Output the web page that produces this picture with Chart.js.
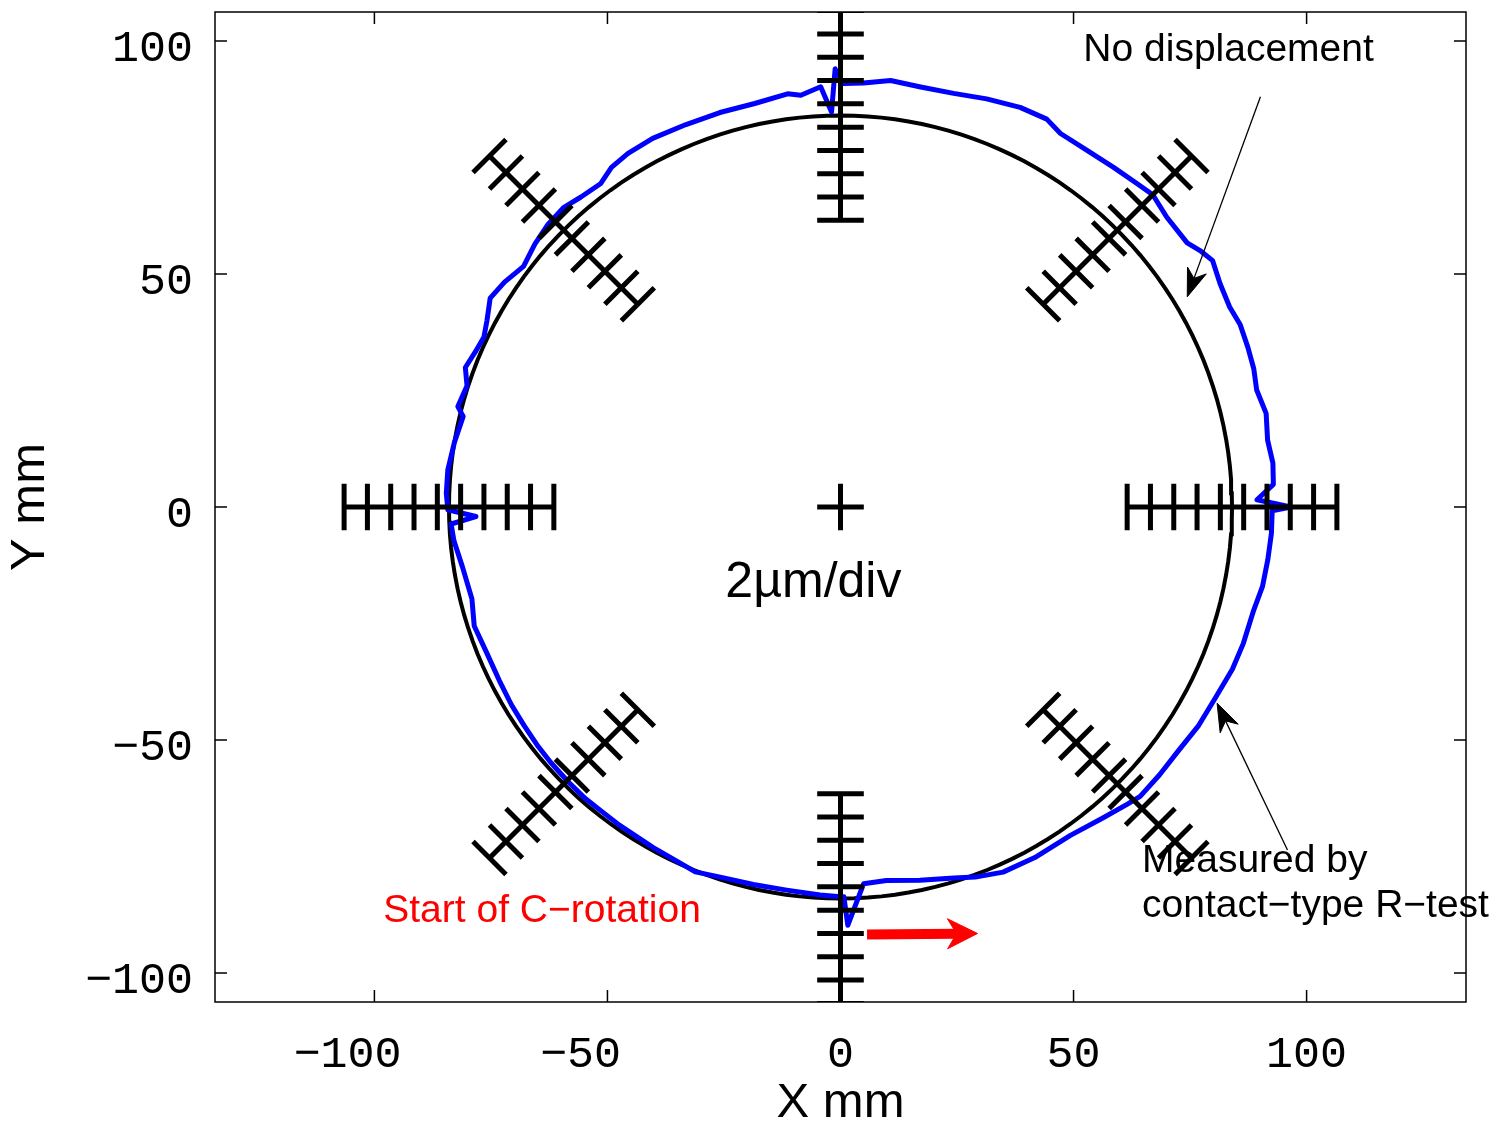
<!DOCTYPE html>
<html>
<head>
<meta charset="utf-8">
<script src="https://cdn.jsdelivr.net/npm/chart.js@4.4.1/dist/chart.umd.min.js"></script>
<style>
  html, body { margin: 0; padding: 0; background: #fff; }
  canvas { display: block; }
</style>
</head>
<body>
<canvas id="chart1" width="1498" height="1128"></canvas>
<script>
// Measured profile (R-test): angle in deg, radial deviation in um
const angleDeg = [
  -89.5, -89, -86.5, -83, -78, -73, -70, -66, -61, -55,
  -50, -46, -44, -40, -36, -31.5, -27, -22.5, -18.7, -14,
  -10.7, -7, -3.5, -0.5, 0, 1, 3, 5.8, 8.9, 12.4,
  15.7, 18.5, 21.4, 24.5, 27.2, 30.5, 33.5, 35.5, 37.3, 41.6,
  45, 47.5, 51.2, 55.4, 59.5, 62, 65.8, 70.3, 74.7, 79.2,
  83.3, 86.9, 89.6, 90.7, 91.3, 92.7, 95.5, 97.3, 102, 107,
  112, 117, 121, 124, 126.6, 130, 132.7, 136, 139.3, 142.8,
  146.2, 149.2, 152.2, 154.5, 157, 159.6, 162, 165.3, 166.5, 170.6,
  174.6, 178, 180.4, 181.5, 182.5, 185, 189, 194, 198, 202,
  207, 211, 214.6, 218.4, 221.4, 225.3, 228.8, 231.7, 235.2, 238,
  241.2, 244.6, 248.3, 252, 257, 262, 267, 270
];
const devUm = [
  -0.15, 2.3, -1.2, -1.3, -0.85, -0.3, 0.2, 0.7, 0.8, 0.8,
  1.3, 1.85, 2.15, 2.15, 2.15, 2.4, 2.5, 2.8, 2.9, 2.95,
  3.25, 3.35, 3.45, 3.45, 5.05, 2.15, 3.6, 3.7, 3.5, 3.8,
  3.5, 3.8, 3.95, 4.1, 3.95, 4.2, 4.7, 4.3, 3.8, 3.85,
  4.3, 4.05, 3.8, 3.6, 3.6, 4.1, 4.0, 3.6, 3.2, 3.1,
  3.25, 2.85, 2.75, 4.0, 0.3, 2.5, 1.9, 2.15, 1.8, 1.8,
  1.8, 1.9, 1.8, 1.55, 0.95, 1.1, 1.4, 1.3, 1.0, 0.55,
  1.1, 1.4, 0.7, 0.3, 0.45, 0.75, 0.1, 0.35, -0.3, 0.0,
  0.25, 0.25, 0.1, -2.3, -0.15, -0.3, -0.75, -1.0, -0.55, -0.75,
  -0.75, -0.65, -0.6, -0.5, -0.45, -0.4, -0.35, -0.4, -0.35, -0.35,
  -0.25, -0.15, 0.1, -0.2, -0.35, -0.4, -0.25, -0.15
];

const nominalRadius = 84;            // mm, "no displacement" circle
const mmPerUm = 2.5;                 // 2 um/div drawn as 5 mm/div
const scaleAngles = [0, 45, 90, 135, 180, 225, 270, 315];
const divRadii = [61.5, 66.5, 71.5, 76.5, 81.5, 86.5, 91.5, 96.5, 101.5, 106.5];
const divHalf = 5;
const tickValues = [-100, -50, 0, 50, 100];

function polar(r, deg) {
  const a = deg * Math.PI / 180;
  return { x: r * Math.cos(a), y: r * Math.sin(a) };
}

const measured = angleDeg.map((a, i) => polar(nominalRadius + devUm[i] * mmPerUm, a));

const circle = [];
for (let a = 0; a <= 360; a += 2) circle.push(polar(nominalRadius, a));

// 2um/div scale bars on 8 directions + centre cross
const gap = { x: null, y: null };
const divMarks = [];
scaleAngles.forEach(a => {
  divMarks.push(polar(divRadii[0], a), polar(divRadii[divRadii.length - 1], a), gap);
  divRadii.forEach(r => {
    const c = polar(r, a), p = polar(divHalf, a + 90);
    divMarks.push({ x: c.x - p.x, y: c.y - p.y }, { x: c.x + p.x, y: c.y + p.y }, gap);
  });
});
divMarks.push({ x: -divHalf, y: 0 }, { x: divHalf, y: 0 }, gap, { x: 0, y: -divHalf }, { x: 0, y: divHalf });

const minus = v => (v < 0 ? '\u2212' + (-v) : String(v));

function arrow(ctx, x1, y1, x2, y2, lw, len, half, color) {
  const dx = x2 - x1, dy = y2 - y1, d = Math.hypot(dx, dy);
  const ux = dx / d, uy = dy / d, nx = -uy, ny = ux;
  const bx = x2 - ux * len, by = y2 - uy * len;
  const mx = x2 - ux * len * 0.7, my = y2 - uy * len * 0.7;
  ctx.strokeStyle = color; ctx.fillStyle = color; ctx.lineWidth = lw;
  ctx.lineCap = 'butt';
  ctx.beginPath(); ctx.moveTo(x1, y1); ctx.lineTo(mx, my); ctx.stroke();
  ctx.beginPath();
  ctx.moveTo(x2, y2);
  ctx.lineTo(bx + nx * half, by + ny * half);
  ctx.lineTo(mx, my);
  ctx.lineTo(bx - nx * half, by - ny * half);
  ctx.closePath();
  ctx.lineJoin = 'round'; ctx.lineWidth = 1;
  ctx.fill(); ctx.stroke();
}

const frame = {
  id: 'frame',
  afterDatasetsDraw(chart) {
    const { ctx, chartArea: a, scales: { x, y } } = chart;
    ctx.save();
    ctx.strokeStyle = '#000';
    ctx.lineWidth = 1.5;
    ctx.strokeRect(a.left, a.top, a.right - a.left, a.bottom - a.top);
    ctx.beginPath();
    tickValues.forEach(v => {
      const px = x.getPixelForValue(v), py = y.getPixelForValue(v);
      ctx.moveTo(px, a.bottom); ctx.lineTo(px, a.bottom - 12);
      ctx.moveTo(px, a.top); ctx.lineTo(px, a.top + 12);
      ctx.moveTo(a.left, py); ctx.lineTo(a.left + 12, py);
      ctx.moveTo(a.right, py); ctx.lineTo(a.right - 12, py);
    });
    ctx.stroke();

    const X = v => x.getPixelForValue(v), Y = v => y.getPixelForValue(v);
    arrow(ctx, X(90.1), Y(88.0), X(74.4), Y(45.1), 1.3, 28, 10, '#000');
    arrow(ctx, X(95.9), Y(-73.6), X(80.8), Y(-42.1), 1.3, 28, 10, '#000');
    arrow(ctx, X(5.7), Y(-91.7), X(29.4), Y(-91.5), 10, 30, 15, '#ff0000');

    ctx.textAlign = 'left';
    ctx.textBaseline = 'alphabetic';
    ctx.fillStyle = '#000';
    ctx.font = '39px "Liberation Sans", Arial, sans-serif';
    ctx.fillText('No displacement', X(52.1), Y(95.6));
    ctx.fillText('Measured by', X(64.7), Y(-78.3));
    ctx.fillText('contact\u2212type R\u2212test', X(64.7), Y(-87.9));
    ctx.font = '50px "Liberation Sans", Arial, sans-serif';
    ctx.fillText('2\u00b5m/div', X(-24.7), Y(-19.3));
    ctx.fillStyle = '#ff0000';
    ctx.font = '39px "Liberation Sans", Arial, sans-serif';
    ctx.fillText('Start of C\u2212rotation', X(-98.1), Y(-89.1));
    ctx.restore();
  }
};

const tickFont = { family: '"Liberation Mono", monospace', size: 45 };
const titleFont = { family: '"Liberation Sans", Arial, sans-serif', size: 49, lineHeight: 1 };

new Chart(document.getElementById('chart1'), {
  type: 'scatter',
  data: {
    datasets: [
      { label: 'scale', data: divMarks, showLine: true, borderColor: '#000', borderWidth: 5,
        borderCapStyle: 'butt', pointRadius: 0, spanGaps: false, order: 0 },
      { label: 'Measured by contact-type R-test', data: measured, showLine: true,
        borderColor: '#0000ff', borderWidth: 5, borderJoinStyle: 'round', borderCapStyle: 'round',
        pointRadius: 0, tension: 0, order: 1 },
      { label: 'No displacement', data: circle, showLine: true, borderColor: '#000',
        borderWidth: 4, pointRadius: 0, order: 2 }
    ]
  },
  options: {
    responsive: false,
    devicePixelRatio: 1,
    animation: false,
    layout: { padding: { left: 0, top: 12, right: 32, bottom: 0 } },
    plugins: { legend: { display: false }, tooltip: { enabled: false } },
    scales: {
      x: {
        type: 'linear', min: -134.2, max: 134.2,
        afterBuildTicks: s => { s.ticks = tickValues.map(v => ({ value: v })); },
        afterFit: s => { s.height = 126; s.paddingLeft = 0; s.paddingRight = 0; },
        grid: { display: false }, border: { display: false },
        ticks: { font: tickFont, color: '#000', padding: 18, maxRotation: 0, autoSkip: false,
                 callback: v => (v < 0 ? minus(v) + '  ' : minus(v)) },
        title: { display: true, text: 'X mm', font: titleFont, color: '#000', padding: { top: 0, bottom: 0 } }
      },
      y: {
        type: 'linear', min: -106.2, max: 106.2,
        afterBuildTicks: s => { s.ticks = tickValues.map(v => ({ value: v })); },
        afterFit: s => { s.width = 215; s.paddingTop = 0; s.paddingBottom = 0; },
        grid: { display: false }, border: { display: false },
        ticks: { font: tickFont, color: '#000', padding: 14, labelOffset: 8, autoSkip: false,
                 callback: v => minus(v) },
        title: { display: true, text: 'Y mm', font: titleFont, color: '#000', padding: { top: 6, bottom: 0 } }
      }
    }
  },
  plugins: [frame]
});
</script>
</body>
</html>
